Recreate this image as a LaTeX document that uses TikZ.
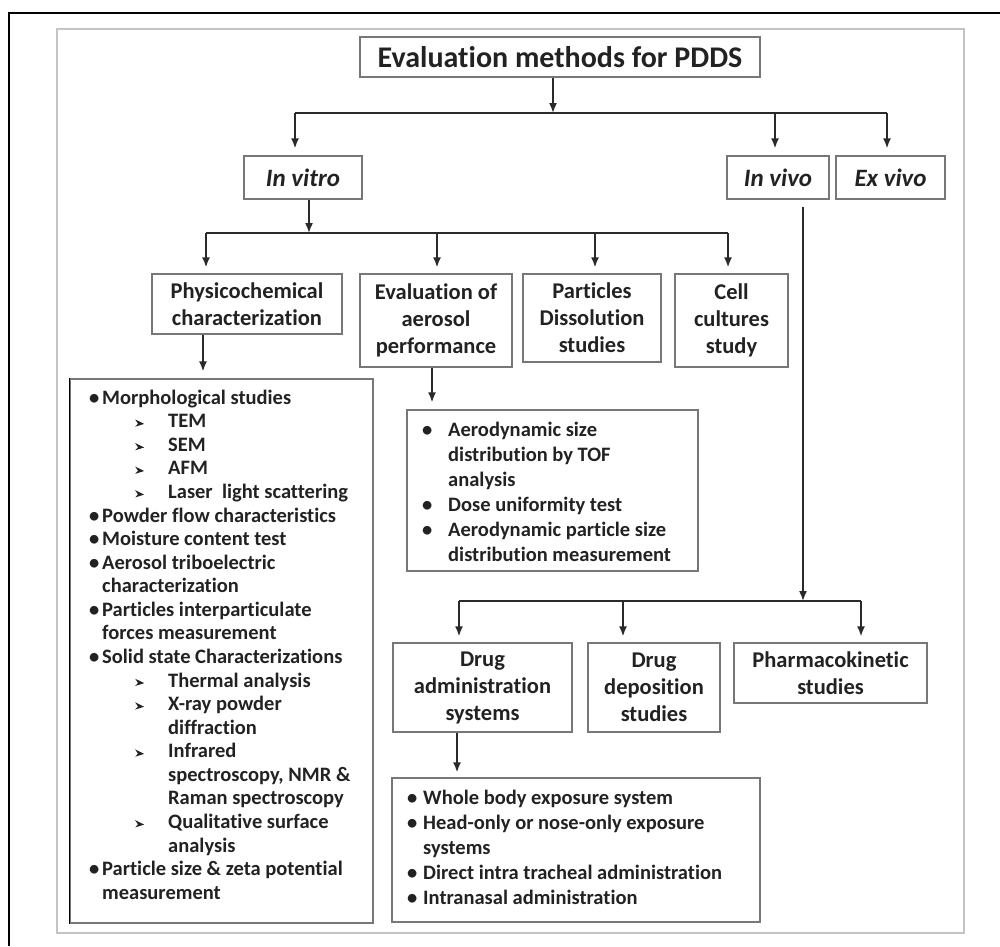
\documentclass[tikz,border=0pt]{standalone}
\usepackage{fontspec}
\setmainfont[RawFeature={-liga}]{Carlito}
\usetikzlibrary{arrows.meta}
\definecolor{txt}{HTML}{222222}
\definecolor{boxc}{HTML}{777777}
\definecolor{framec}{HTML}{C4C4C4}
\definecolor{linec}{HTML}{2A2A2A}
\newcommand\arrb{\tikz[baseline=-4.5pt]\fill[txt] (0pt,3.8pt) -- (9pt,-0.6pt) -- (0pt,-3.4pt) -- (2.8pt,-0.4pt) -- cycle;}
\newcommand\lbul{\strut\makebox[13pt][l]{\textbullet}}
\newcommand\lcont{\strut\hspace*{13pt}}
\newcommand\larr{\strut\hspace*{46pt}\makebox[33pt][l]{\arrb}}
\newcommand\larrc{\strut\hspace*{79pt}}
\newcommand\ebul{\strut\makebox[26pt][l]{\textbullet}}
\newcommand\econt{\strut\hspace*{26pt}}
\newcommand\abul{\strut\makebox[16pt][l]{\textbullet}}
\newcommand\acont{\strut\hspace*{16pt}}
\tikzset{
  box/.style={draw=boxc, line width=1.3pt, inner sep=0pt, align=center, text=txt,
    font=\bfseries\fontsize{22.5}{27}\selectfont},
  ital/.style={font=\bfseries\itshape\fontsize{25}{30}\selectfont},
  lbox/.style={draw=boxc, line width=1.3pt, inner sep=0pt},
  arr/.style={draw=linec, line width=1.6pt, -{Latex[length=10pt,width=8pt]}},
  conn/.style={draw=linec, line width=1.6pt},
  listtxt/.style={anchor=north west, inner sep=0pt, align=left, text=txt,
    font=\bfseries\fontsize{20.5}{23.57}\selectfont},
  listtxtb/.style={listtxt, font=\bfseries\fontsize{20.5}{25}\selectfont},
}
\begin{document}
\begin{tikzpicture}[x=1pt,y=-1pt]
\useasboundingbox (0,0) rectangle (1000,946);
% frames
\draw[line width=2pt, black] (1000,13) -- (9,13) -- (9,946);
\draw[draw=framec, line width=2pt] (57,29) rectangle (964,933);
% top level
\node[box, minimum width=400pt, minimum height=40pt, font=\bfseries\fontsize{30}{34}\selectfont] (title) at (560,57) {Evaluation methods for PDDS};
\node[box, ital, minimum width=118pt, minimum height=43pt] (invitro) at (303,177.5) {In vitro};
\node[box, ital, minimum width=102pt, minimum height=43pt] (invivo) at (778,177.5) {In vivo};
\node[box, ital, minimum width=109pt, minimum height=43pt] (exvivo) at (890.5,177.5) {Ex vivo};
% in vitro children
\node[box, minimum width=190pt, minimum height=60pt] (phys) at (247,304) {Physicochemical\\characterization};
\node[box, minimum width=152pt, minimum height=93pt] (evalaer) at (436,320.5) {Evaluation of\\aerosol\\performance};
\node[box, minimum width=138pt, minimum height=88pt] (partdiss) at (592,318) {Particles\\Dissolution\\studies};
\node[box, minimum width=113pt, minimum height=93pt] (cell) at (731.5,320.5) {Cell\\cultures\\study};
% in vivo children
\node[box, minimum width=179pt, minimum height=89pt] (drugadmin) at (482.5,687.5) {Drug\\administration\\systems};
\node[box, minimum width=132pt, minimum height=89pt] (drugdep) at (654,687.5) {Drug\\deposition\\studies};
\node[box, minimum width=193pt, minimum height=60pt] (pharma) at (830.5,673) {Pharmacokinetic\\studies};
% list boxes
\node[lbox, minimum width=303pt, minimum height=544pt] (physlist) at (221.5,651) {};
\draw[black, line width=1.6pt] (physlist.north west) -- (physlist.south west);
\node[lbox, minimum width=291pt, minimum height=161pt] (evallist) at (552.5,490.5) {};
\node[lbox, minimum width=368pt, minimum height=144pt] (adminlist) at (576,850) {};
% list texts
\node[listtxt] (physitems) at (89,387.5) {%
\lbul Morphological studies\\
\larr TEM\\
\larr SEM\\
\larr AFM\\
\larr Laser\ \ light scattering\\
\lbul Powder flow characteristics\\
\lbul Moisture content test\\
\lbul Aerosol triboelectric\\
\lcont characterization\\
\lbul Particles interparticulate\\
\lcont forces measurement\\
\lbul Solid state Characterizations\\
\larr Thermal analysis\\
\larr X-ray powder\\
\larrc diffraction\\
\larr Infrared\\
\larrc spectroscopy, NMR \&\\
\larrc Raman spectroscopy\\
\larr Qualitative surface\\
\larrc analysis\\
\lbul Particle size \& zeta potential\\
\lcont measurement};
\node[listtxtb] (evalitems) at (422,418.5) {%
\ebul Aerodynamic size\\
\econt distribution by TOF\\
\econt analysis\\
\ebul Dose uniformity test\\
\ebul Aerodynamic particle size\\
\econt distribution measurement};
\node[listtxtb] (adminitems) at (407,786.5) {%
\abul Whole body exposure system\\
\abul Head-only or nose-only exposure\\
\acont systems\\
\abul Direct intra tracheal administration\\
\abul Intranasal administration};
% connectors: top
\coordinate (j0) at (553,113);
\coordinate (ja) at (295,113);
\coordinate (jb) at (775,113);
\coordinate (jc) at (887,113);
\draw[arr] (title.south -| j0) -- (j0);
\draw[conn] (ja) -- (jc);
\draw[arr, shorten >=7pt] (ja) -- (ja |- invitro.north);
\draw[arr, shorten >=7pt] (jb) -- (jb |- invivo.north);
\draw[arr, shorten >=7pt] (jc) -- (jc |- exvivo.north);
% in vitro branch
\coordinate (k0) at (309,233);
\coordinate (k1) at (206,233);
\coordinate (k2) at (437,233);
\coordinate (k3) at (595,233);
\coordinate (k4) at (728,233);
\draw[arr] (invitro.south -| k0) -- (k0);
\draw[conn] (k1) -- (k4);
\draw[arr, shorten >=6pt] (k1) -- (k1 |- phys.north);
\draw[arr, shorten >=6pt] (k2) -- (k2 |- evalaer.north);
\draw[arr, shorten >=6pt] (k3) -- (k3 |- partdiss.north);
\draw[arr, shorten >=6pt] (k4) -- (k4 |- cell.north);
\coordinate (pa) at (203,334);
\draw[arr, shorten >=7pt] (phys.south -| pa) -- (pa |- physlist.north);
\coordinate (ea) at (432,367);
\draw[arr, shorten >=7pt] (evalaer.south -| ea) -- (ea |- evallist.north);
% in vivo branch
\coordinate (v0) at (803,601);
\coordinate (m1) at (459,601);
\coordinate (m2) at (623,601);
\coordinate (m3) at (861,601);
\draw[arr, shorten <=7pt] (invivo.south -| v0) -- (v0);
\draw[conn] (m1) -- (m3);
\draw[arr, shorten >=6pt] (m1) -- (m1 |- drugadmin.north);
\draw[arr, shorten >=6pt] (m2) -- (m2 |- drugdep.north);
\draw[arr, shorten >=6pt] (m3) -- (m3 |- pharma.north);
\coordinate (da) at (457,732);
\draw[arr, shorten >=5pt] (drugadmin.south -| da) -- (da |- adminlist.north);
\end{tikzpicture}
\end{document}
